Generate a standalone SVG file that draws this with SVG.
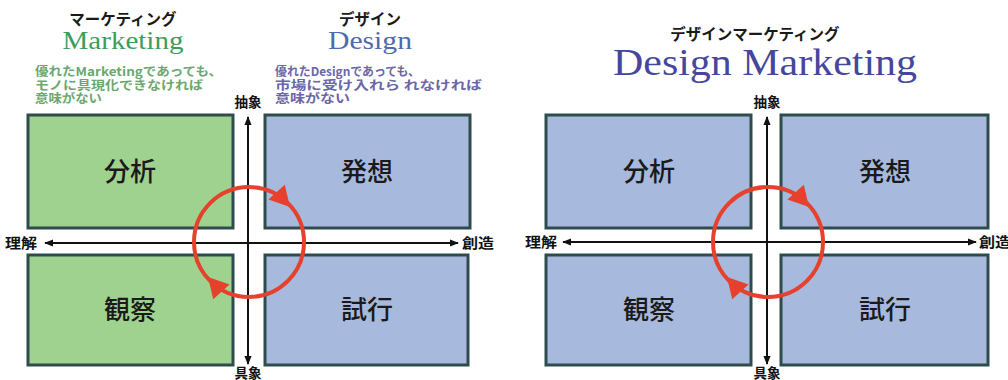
<svg xmlns="http://www.w3.org/2000/svg" xmlns:xlink="http://www.w3.org/1999/xlink" width="1008" height="380" viewBox="0 0 1008 380">
<style>
.g{fill:#9fd18f;stroke:#2f4c4c;stroke-width:3}
.b{fill:#a7b9dc;stroke:#2f4c4c;stroke-width:3}
.q{font-family:"Noto Sans CJK JP",sans-serif;font-size:26px;font-weight:500;fill:#1a1a1a;text-anchor:middle}
.ax{font-family:"Noto Sans CJK JP",sans-serif;font-size:13.5px;font-weight:700;fill:#111}
.kt{font-family:"Noto Sans CJK JP",sans-serif;font-size:15.5px;font-weight:700;fill:#1a1a1a;text-anchor:middle}
.ser{font-family:"Liberation Serif",serif;text-anchor:middle}
.dg{font-family:"Noto Sans CJK JP",sans-serif;font-size:12px;font-weight:700;fill:#6aa870}
.db{font-family:"Noto Sans CJK JP",sans-serif;font-size:12px;font-weight:700;fill:#6a66a8}
.axis{stroke:#111;stroke-width:2;fill:none;marker-start:url(#ah);marker-end:url(#ah)}
.cyc{fill:none;stroke:#e5412d;stroke-width:4}
</style>
<defs>
<marker id="ah" viewBox="0 0 10 10" refX="9" refY="5" markerWidth="9" markerHeight="9" markerUnits="userSpaceOnUse" orient="auto-start-reverse"><path d="M0,1 L10,5 L0,9 Z" fill="#111"/></marker>
<path id="rh" d="M0,0 L-20,-11 L-20,11 Z" fill="#e5412d"/>
</defs>
<rect width="1008" height="380" fill="#ffffff"/>

<g id="left-header">
<text class="kt" x="123" y="25">マーケティング</text>
<text class="ser" x="123" y="49" font-size="26" fill="#3a9e5c" textLength="121" lengthAdjust="spacingAndGlyphs">Marketing</text>
<text class="dg" x="35" y="76" textLength="187" lengthAdjust="spacingAndGlyphs">優れたMarketingであっても、</text>
<text class="dg" x="35" y="89.5" textLength="168" lengthAdjust="spacingAndGlyphs">モノに具現化できなければ</text>
<text class="dg" x="35" y="103" textLength="67" lengthAdjust="spacingAndGlyphs">意味がない</text>
<text class="kt" x="370" y="25">デザイン</text>
<text class="ser" x="370" y="49" font-size="26" fill="#4d6cad" textLength="84" lengthAdjust="spacingAndGlyphs">Design</text>
<text class="db" x="275" y="76" textLength="145" lengthAdjust="spacingAndGlyphs">優れたDesignであっても、</text>
<text class="db" x="275" y="89.5" textLength="207" lengthAdjust="spacingAndGlyphs">市場に受け入れら れなければ</text>
<text class="db" x="275" y="103" textLength="75" lengthAdjust="spacingAndGlyphs">意味がない</text>
</g>

<g id="right-header">
<text class="kt" x="755" y="40">デザインマーケティング</text>
<text class="ser" x="765" y="75" font-size="38" fill="#45479c" textLength="304" lengthAdjust="spacingAndGlyphs">Design Marketing</text>
</g>

<g id="L-bunseki"><rect class="g" x="28" y="115" width="205" height="113"/><text class="q" x="130" y="181">分析</text></g>
<g id="L-hassou"><rect class="b" x="265" y="115" width="205" height="113"/><text class="q" x="367" y="181">発想</text></g>
<g id="L-kansatsu"><rect class="g" x="28" y="255" width="205" height="110"/><text class="q" x="130" y="319">観察</text></g>
<g id="L-shikou"><rect class="b" x="265" y="255" width="203" height="110"/><text class="q" x="367" y="319">試行</text></g>

<g id="R-bunseki"><rect class="b" x="546" y="115" width="205" height="113"/><text class="q" x="649" y="181">分析</text></g>
<g id="R-hassou"><rect class="b" x="781" y="115" width="207" height="113"/><text class="q" x="885" y="181">発想</text></g>
<g id="R-kansatsu"><rect class="b" x="546" y="255" width="205" height="110"/><text class="q" x="649" y="319">観察</text></g>
<g id="R-shikou"><rect class="b" x="781" y="255" width="207" height="110"/><text class="q" x="885" y="319">試行</text></g>

<g id="left-axis-labels">
<text class="ax" x="248" y="107" text-anchor="middle">抽象</text>
<text class="ax" x="248" y="378" text-anchor="middle">具象</text>
<text class="ax" x="5" y="248" textLength="32" lengthAdjust="spacingAndGlyphs">理解</text>
<text class="ax" x="462" y="248" textLength="32" lengthAdjust="spacingAndGlyphs">創造</text>
</g>
<g id="right-axis-labels">
<text class="ax" x="767" y="107" text-anchor="middle">抽象</text>
<text class="ax" x="767" y="378" text-anchor="middle">具象</text>
<text class="ax" x="525" y="247" textLength="32" lengthAdjust="spacingAndGlyphs">理解</text>
<text class="ax" x="979" y="247" textLength="32" lengthAdjust="spacingAndGlyphs">創造</text>
</g>

<g id="connectors">
<line class="axis" x1="248" y1="117" x2="248" y2="364"/>
<line class="axis" x1="45" y1="243" x2="458" y2="243"/>
<circle class="cyc" cx="249" cy="242" r="55"/>
<use xlink:href="#rh" transform="translate(290,207) rotate(48)"/>
<use xlink:href="#rh" transform="translate(208,277) rotate(228)"/>

<line class="axis" x1="767" y1="117" x2="767" y2="364"/>
<line class="axis" x1="563" y1="242" x2="976" y2="242"/>
<circle class="cyc" cx="768" cy="242" r="55"/>
<use xlink:href="#rh" transform="translate(809,207) rotate(48)"/>
<use xlink:href="#rh" transform="translate(727,277) rotate(228)"/>
</g>
</svg>
